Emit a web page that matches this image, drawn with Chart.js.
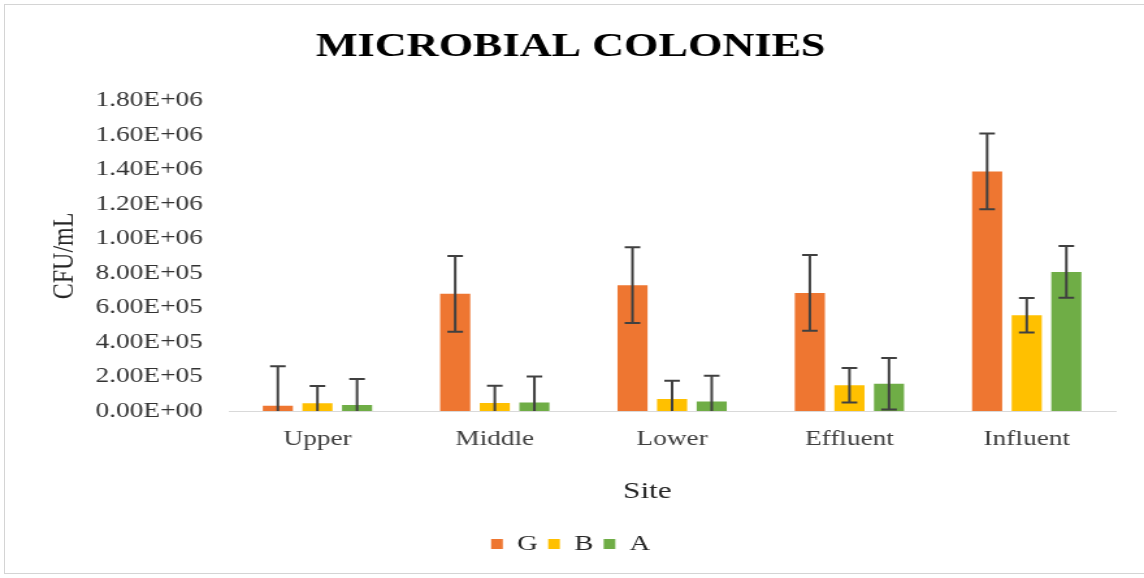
<!DOCTYPE html>
<html>
<head>
<meta charset="utf-8">
<script src="https://cdn.jsdelivr.net/npm/chart.js@4.4.1/dist/chart.umd.min.js"></script>
<style>
  html, body { margin: 0; padding: 0; background: #fff; }
  #frame {
    position: absolute; left: 4px; top: 4px; width: 1150px; height: 570px;
    border: 1px solid #d4d4d4; box-sizing: border-box;
  }
  /* the chart is laid out narrow and widened, which gives the wide serif lettering */
  #wrap {
    position: absolute; left: 0; top: 0; width: 880px; height: 578px;
    transform: scaleX(1.3); transform-origin: 0 0;
  }
</style>
</head>
<body>
<div id="frame"></div>
<div id="wrap"><canvas id="colonies" width="880" height="578"></canvas></div>
<script>
// Colony counts per sampling site (CFU/mL) with the standard deviation of each
const sites = ['Upper', 'Middle', 'Lower', 'Effluent', 'Influent'];

const gValues = [30000, 680000, 730000, 685000, 1390000];
const gErrors = [230000, 220000, 220000, 220000, 220000];

const bValues = [45000, 47000, 70000, 150000, 555000];
const bErrors = [100000, 100000, 105000, 100000, 100000];

const aValues = [35000, 50000, 55000, 158000, 807000];
const aErrors = [150000, 150000, 150000, 150000, 150000];

const yTickLabels = [
  '0.00E+00', '2.00E+05', '4.00E+05', '6.00E+05', '8.00E+05',
  '1.00E+06', '1.20E+06', '1.40E+06', '1.60E+06', '1.80E+06',
];

const serif = '"Liberation Serif", "Times New Roman", serif';

// Draw +/- error whiskers over every bar
const errorBars = {
  id: 'errorBars',
  afterDatasetsDraw(chart, args, opts) {
    const { ctx, chartArea, scales } = chart;
    const y = scales.y;
    ctx.save();
    ctx.beginPath();
    ctx.rect(chartArea.left, chartArea.top - 10, chartArea.width, chartArea.height + 10);
    ctx.clip();
    ctx.strokeStyle = opts.color;
    ctx.lineWidth = opts.width;
    chart.data.datasets.forEach((ds, i) => {
      const meta = chart.getDatasetMeta(i);
      meta.data.forEach((bar, j) => {
        const v = ds.data[j];
        const e = ds.errors[j];
        const top = y.getPixelForValue(v + e);
        const bottom = y.getPixelForValue(v - e);
        const x = bar.x;
        ctx.beginPath();
        ctx.moveTo(x, top);
        ctx.lineTo(x, bottom);
        ctx.moveTo(x - opts.cap, top);
        ctx.lineTo(x + opts.cap, top);
        ctx.moveTo(x - opts.cap, bottom);
        ctx.lineTo(x + opts.cap, bottom);
        ctx.stroke();
      });
    });
    ctx.restore();
  },
};

// x axis caption, sitting a little left of the axis centre
const siteCaption = {
  id: 'siteCaption',
  afterDraw(chart, args, opts) {
    const { ctx, chartArea } = chart;
    const x = (chartArea.left + chartArea.right) / 2 + opts.dx;
    ctx.save();
    ctx.fillStyle = opts.color;
    ctx.font = `${opts.size}px ${serif}`;
    ctx.textAlign = 'center';
    ctx.textBaseline = 'middle';
    ctx.fillText(opts.text, x, chartArea.bottom + opts.dy);
    ctx.restore();
  },
};

const barStyle = {
  barPercentage: 0.76,
  categoryPercentage: 0.67,
  borderWidth: 0,
};

new Chart(document.getElementById('colonies'), {
  type: 'bar',
  data: {
    labels: sites,
    datasets: [
      { label: 'G', data: gValues, errors: gErrors, backgroundColor: '#EE7631', ...barStyle },
      { label: 'B', data: bValues, errors: bErrors, backgroundColor: '#FFC000', ...barStyle },
      { label: 'A', data: aValues, errors: aErrors, backgroundColor: '#6FAD46', ...barStyle },
    ],
  },
  options: {
    responsive: false,
    animation: false,
    layout: {
      padding: { top: 4, left: 20, right: 22, bottom: 13 },
    },
    scales: {
      x: {
        grid: { display: false, drawTicks: false },
        border: { color: '#d9d9d9', width: 1 },
        ticks: {
          color: '#404040',
          padding: 16,
          maxRotation: 0,
          font: { family: serif, size: 21 },
        },
        // keeps room for the caption drawn by siteCaption
        title: {
          display: true,
          text: 'Site',
          color: 'rgba(0,0,0,0)',
          padding: { top: 10, bottom: 18 },
          font: { family: serif, size: 24 },
        },
      },
      y: {
        min: 0,
        max: 1800000,
        grid: { display: false, drawTicks: false },
        border: { display: false },
        afterFit: (scale) => { scale.width = 156; },
        ticks: {
          stepSize: 200000,
          color: '#333',
          padding: 20,
          font: { family: serif, size: 21 },
          callback: (value, index) => yTickLabels[index],
        },
        title: {
          display: true,
          text: 'CFU/mL',
          color: '#262626',
          padding: { top: 15, bottom: 10 },
          font: { family: serif, size: 24 },
        },
      },
    },
    plugins: {
      title: {
        display: true,
        text: 'MICROBIAL COLONIES',
        color: '#000',
        padding: { top: 23, bottom: 33 },
        font: { family: serif, size: 34, weight: 'bold' },
      },
      legend: {
        position: 'bottom',
        labels: {
          boxWidth: 9,
          boxHeight: 10,
          padding: 8,
          color: '#262626',
          font: { family: serif, size: 22 },
        },
      },
      tooltip: { enabled: false },
      errorBars: { color: '#404040', width: 2, cap: 6 },
      siteCaption: { text: 'Site', color: '#262626', size: 24, dx: -19, dy: 81 },
    },
  },
  plugins: [errorBars, siteCaption],
});
</script>
</body>
</html>
